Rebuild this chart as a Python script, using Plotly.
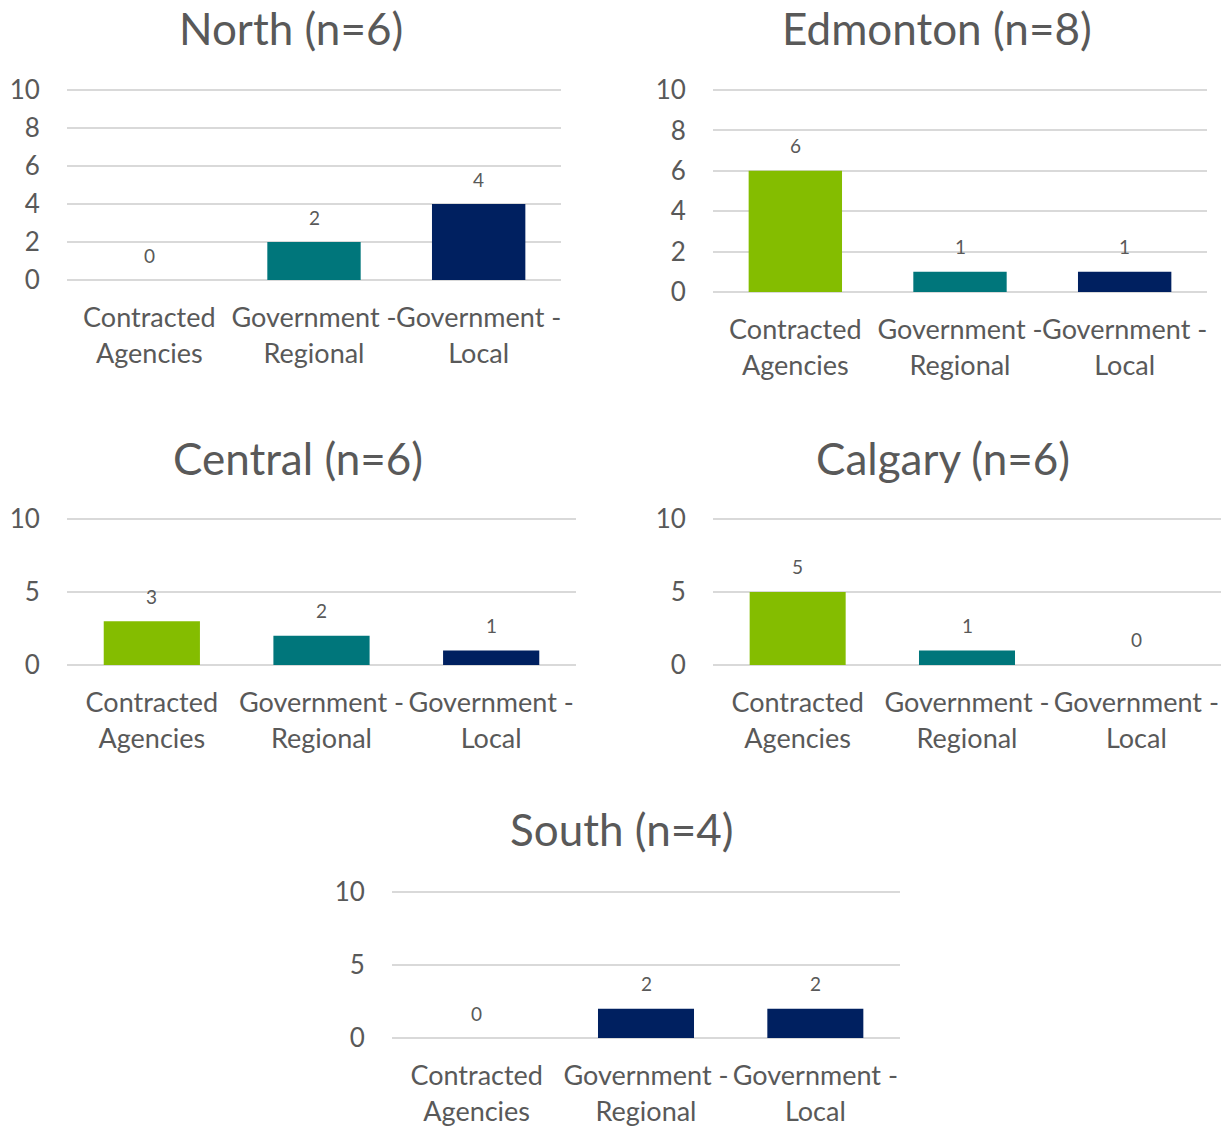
import plotly.graph_objects as go

categories = ["Contracted<br>Agencies", "Government -<br>Regional", "Government -<br>Local"]

regions = ["North (n=6)", "Edmonton (n=8)", "Central (n=6)", "Calgary (n=6)", "South (n=4)"]
north = [0, 2, 4]
edmonton = [6, 1, 1]
central = [3, 2, 1]
calgary = [5, 1, 0]
south = [0, 2, 2]
values = [north, edmonton, central, calgary, south]

tick_step = [2, 2, 5, 5, 5]
y_max = 10

GREEN = "#84BD00"
TEAL = "#00767B"
NAVY = "#002060"
colors = [
    [GREEN, TEAL, NAVY],
    [GREEN, TEAL, NAVY],
    [GREEN, TEAL, NAVY],
    [GREEN, TEAL, NAVY],
    [NAVY, NAVY, NAVY],
]

W, H = 1225, 1129
# plot areas in pixels: (x0, x1, y of top gridline, y of baseline)
boxes = [
    (67, 561, 90, 280),
    (713, 1207, 90, 292),
    (67, 576, 519, 665),
    (713, 1221, 519, 665),
    (392, 900, 892, 1038),
]
title_pos = [(291, 28), (937, 28), (298, 458), (943, 458), (622, 829)]

TEXT = "#595959"
FONT = "Lato"
PAD = 0.3  # extra range above top gridline so it is drawn

fig = go.Figure()
for i, (vals, cols, box) in enumerate(zip(values, colors, boxes)):
    n = "" if i == 0 else str(i + 1)
    fig.add_trace(go.Bar(
        x=categories, y=vals, marker=dict(color=cols, line=dict(width=0)),
        xaxis="x" + n, yaxis="y" + n, showlegend=False, hoverinfo="skip",
    ))
    x0, x1, yt, yb = box
    unit = (yb - yt) / y_max
    ytop = yt - PAD * unit
    fig.layout["xaxis" + n] = dict(
        domain=[x0 / W, x1 / W], anchor="y" + n, type="category",
        showgrid=False, showline=False, zeroline=False, automargin=False,
        tickangle=0,
        ticks="outside", ticklen=14, tickcolor="rgba(0,0,0,0)",
        tickfont=dict(family=FONT, size=27, color=TEXT), fixedrange=True,
    )
    fig.layout["yaxis" + n] = dict(
        domain=[1 - yb / H, 1 - ytop / H], anchor="x" + n,
        range=[0, y_max + PAD], dtick=tick_step[i], tick0=0, automargin=False,
        showgrid=True, gridcolor="#D9D9D9", gridwidth=2,
        zeroline=True, zerolinecolor="#D9D9D9", zerolinewidth=2,
        showline=False,
        ticks="outside", ticklen=21, tickcolor="rgba(0,0,0,0)",
        tickfont=dict(family=FONT, size=26, color=TEXT), fixedrange=True,
    )
    for c, v in zip(categories, vals):
        fig.add_annotation(
            x=c, y=v, xref="x" + n, yref="y" + n, text=str(v),
            showarrow=False, yanchor="middle", yshift=25,
            font=dict(family=FONT, size=19, color=TEXT),
        )
    tx, ty = title_pos[i]
    fig.add_annotation(
        x=tx / W, y=1 - ty / H, xref="paper", yref="paper", text=regions[i],
        showarrow=False, xanchor="center", yanchor="middle",
        font=dict(family=FONT, size=44, color=TEXT),
    )

fig.update_layout(
    width=W, height=H, margin=dict(l=0, r=0, t=0, b=0, autoexpand=False),
    paper_bgcolor="white", plot_bgcolor="white",
    bargap=0.433,
)
fig.write_html("out.html")
